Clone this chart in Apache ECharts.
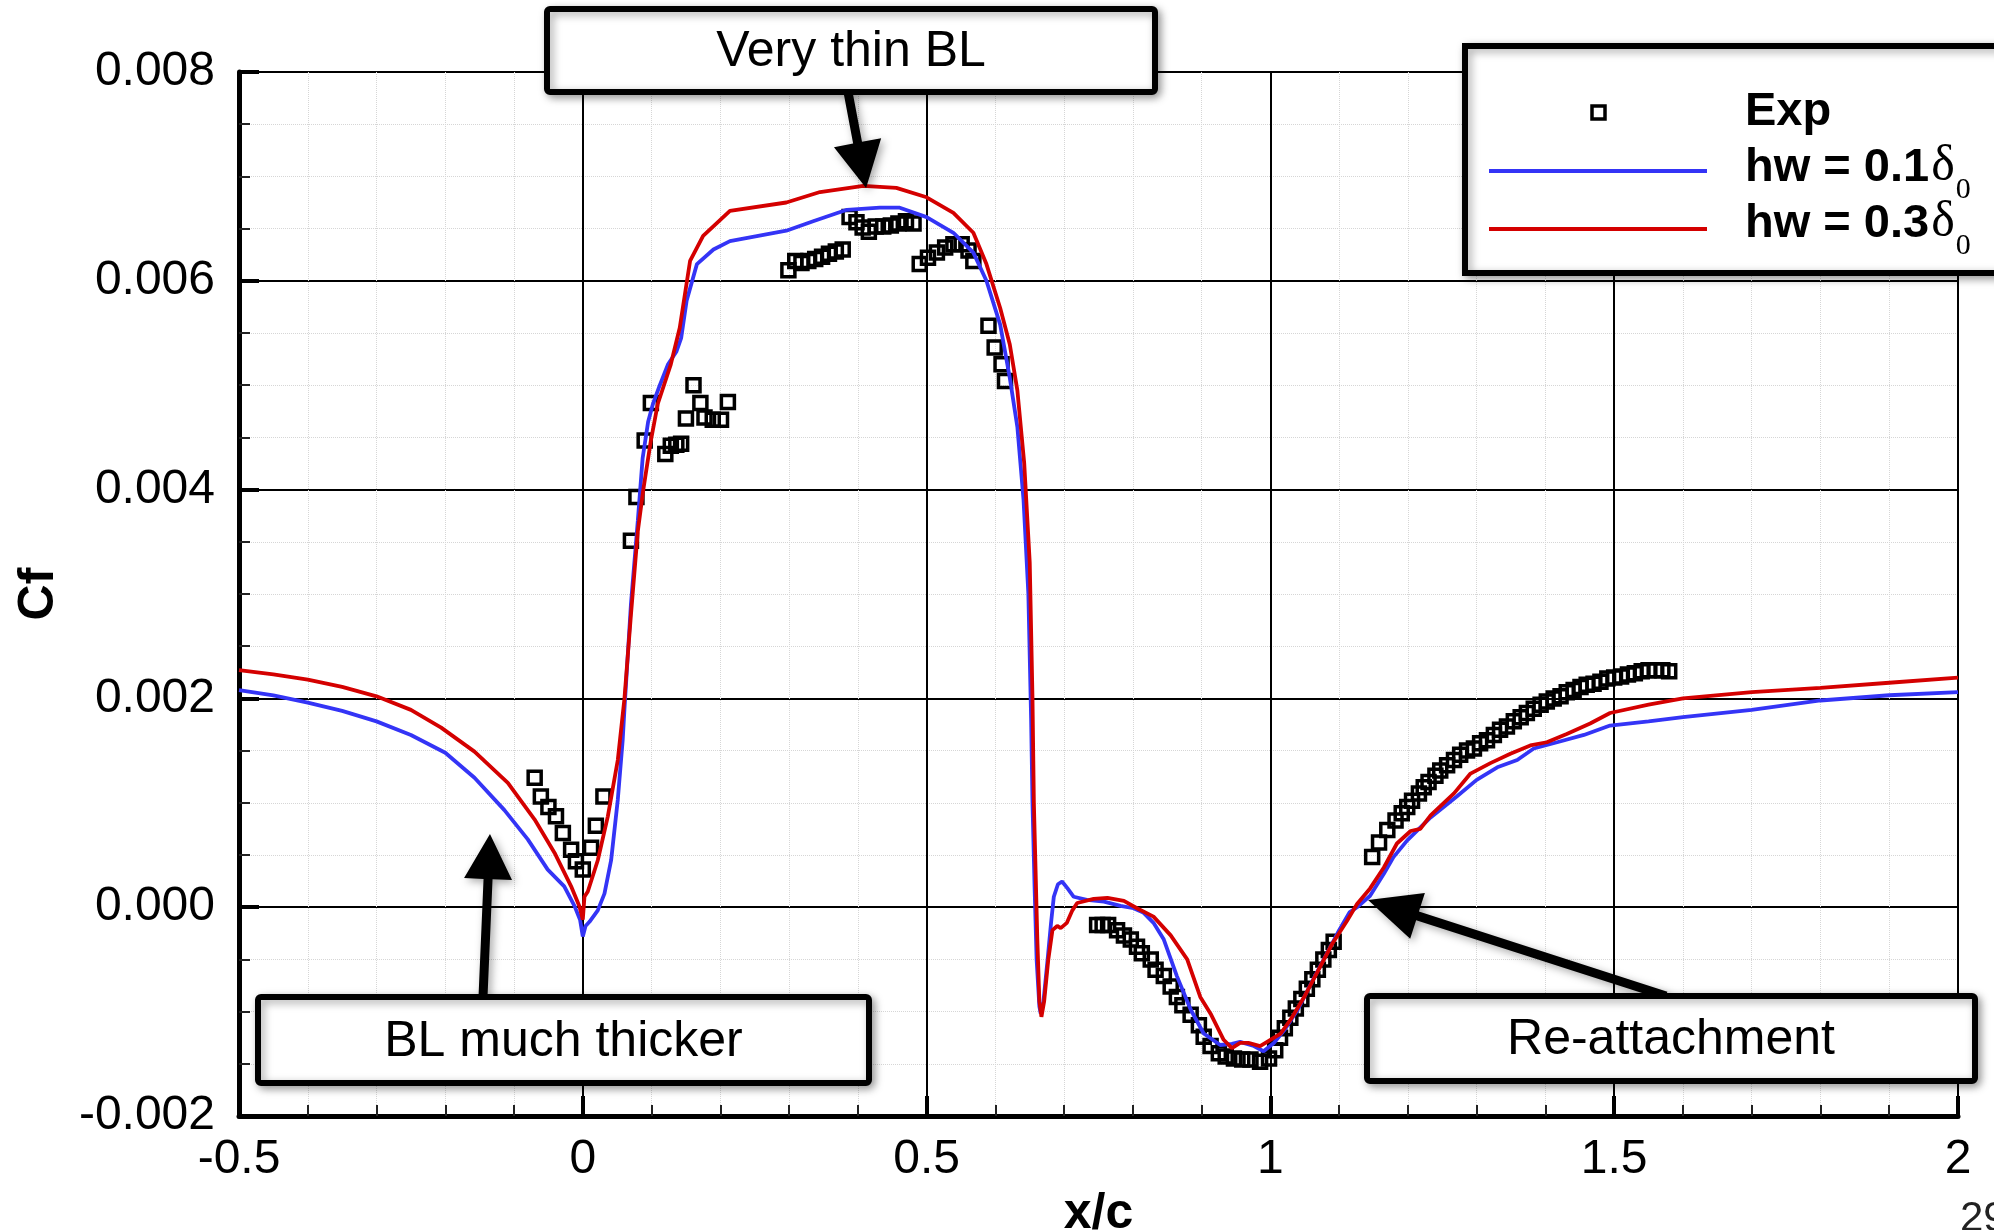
<!DOCTYPE html>
<html>
<head>
<meta charset="utf-8">
<style>
  html, body { margin: 0; padding: 0; background: #fff; }
  #chart { width: 1994px; height: 1230px; }
</style>
<script src="https://cdn.jsdelivr.net/npm/echarts@6/dist/echarts.min.js"></script>
</head>
<body>
<div id="chart"></div>
<script>
// Skin-friction coefficient along the wall: experiment vs. two wall-model heights
const xTicks = [-0.5, 0, 0.5, 1, 1.5, 2];
const yTicks = [-0.002, 0.000, 0.002, 0.004, 0.006, 0.008];

// Experimental data (hollow squares)
const expX = [
  -0.070, -0.061, -0.050, -0.039, -0.029, -0.017, -0.010, 0.000, 0.012, 0.019, 0.030,
  0.070, 0.078, 0.090, 0.099, 0.120, 0.128, 0.136, 0.143, 0.150, 0.161, 0.171, 0.177, 0.189, 0.201, 0.211,
  0.299, 0.309, 0.318, 0.328, 0.338, 0.348, 0.358, 0.368, 0.378,
  0.388, 0.398, 0.407, 0.416, 0.426, 0.437, 0.448, 0.459, 0.470, 0.481,
  0.490, 0.502, 0.515, 0.527, 0.539, 0.551, 0.561, 0.568,
  0.590, 0.599, 0.609, 0.614,
  0.748, 0.756, 0.764, 0.777, 0.787, 0.797, 0.806, 0.813, 0.826, 0.833, 0.845, 0.855, 0.864, 0.872,
  0.884, 0.896, 0.903, 0.913, 0.925, 0.935, 0.947, 0.959, 0.971, 0.985, 0.998,
  1.007, 1.014, 1.021, 1.029, 1.037, 1.045, 1.053, 1.061, 1.069, 1.077, 1.085, 1.092,
  1.148, 1.158, 1.170, 1.182, 1.191, 1.199, 1.206, 1.216, 1.223, 1.230, 1.240, 1.247, 1.257, 1.267,
  1.276, 1.286, 1.296, 1.305, 1.315, 1.325, 1.334, 1.344, 1.354, 1.364, 1.373, 1.383, 1.393, 1.402,
  1.412, 1.422, 1.431, 1.441, 1.451, 1.460, 1.470, 1.480, 1.490, 1.500, 1.510, 1.520, 1.530, 1.540,
  1.550, 1.560, 1.570, 1.580
];
const expCf = [
  0.00124, 0.00106, 0.00096, 0.00087, 0.00071, 0.00055, 0.00044, 0.00036, 0.00057, 0.00078, 0.00106,
  0.00351, 0.00393, 0.00447, 0.00483, 0.00434, 0.00442, 0.00443, 0.00444, 0.00468, 0.00500, 0.00483, 0.00469, 0.00467, 0.00467, 0.00484,
  0.00610, 0.00619, 0.00617, 0.00619, 0.00621, 0.00623, 0.00626, 0.00628, 0.00630,
  0.00661, 0.00656, 0.00651, 0.00647, 0.00652, 0.00652, 0.00653, 0.00655, 0.00657, 0.00655,
  0.00616, 0.00622, 0.00627, 0.00632, 0.00635, 0.00635, 0.00629, 0.00619,
  0.00557, 0.00536, 0.00520, 0.00504,
  -0.00017, -0.00017, -0.00017, -0.00022, -0.00027, -0.00031, -0.00038, -0.00044, -0.00050, -0.00060, -0.00066, -0.00076, -0.00086, -0.00094,
  -0.00103, -0.00113, -0.00124, -0.00133, -0.00140, -0.00143, -0.00145, -0.00146, -0.00146, -0.00148, -0.00145,
  -0.00137, -0.00125, -0.00116, -0.00106, -0.00097, -0.00088, -0.00078, -0.00069, -0.00060, -0.00050, -0.00041, -0.00033,
  0.00048, 0.00062, 0.00074, 0.00083, 0.00090, 0.00096, 0.00102, 0.00109, 0.00115, 0.00120, 0.00126, 0.00131, 0.00136, 0.00141,
  0.00146, 0.00150, 0.00152, 0.00157, 0.00160, 0.00165, 0.00170, 0.00173, 0.00178, 0.00182, 0.00186, 0.00190, 0.00194, 0.00197,
  0.00200, 0.00202, 0.00206, 0.00208, 0.00211, 0.00213, 0.00214, 0.00216, 0.00219, 0.00220, 0.00221, 0.00223, 0.00224, 0.00226,
  0.00227, 0.00227, 0.00227, 0.00226
];

// Computation with wall-model height hw = 0.1 delta0
const hw01X = [
  -0.5, -0.45, -0.4, -0.35, -0.3, -0.25, -0.2, -0.1575, -0.114, -0.08, -0.051, -0.027, -0.012, -0.004, 0.0,
  0.004, 0.0097, 0.0218, 0.0315, 0.0412, 0.0509, 0.058, 0.0606, 0.07, 0.08, 0.087, 0.095, 0.102, 0.112,
  0.124, 0.136, 0.143, 0.151, 0.166, 0.19, 0.214, 0.255, 0.296, 0.335, 0.384, 0.432, 0.461, 0.5, 0.539,
  0.568, 0.587, 0.607, 0.621, 0.632, 0.641, 0.648, 0.652, 0.654, 0.657, 0.66, 0.664, 0.666, 0.67, 0.676,
  0.681, 0.685, 0.691, 0.697, 0.705, 0.714, 0.733, 0.758, 0.782, 0.801, 0.815, 0.83, 0.845, 0.864, 0.884,
  0.903, 0.927, 0.944, 0.956, 0.976, 0.99, 1.005, 1.02, 1.04, 1.06, 1.08, 1.1, 1.115, 1.126, 1.145,
  1.165, 1.179, 1.199, 1.233, 1.271, 1.3, 1.33, 1.359, 1.383, 1.417, 1.456, 1.494, 1.55, 1.6, 1.7,
  1.8, 1.9, 2.0
];
const hw01Cf = [
  0.00208, 0.00203, 0.00196, 0.00188, 0.00178, 0.00165, 0.00148, 0.00124, 0.00093, 0.00065, 0.00036, 0.00020, 0.00001, -0.00012, -0.00028,
  -0.00018, -0.00014, -0.00003, 0.00013, 0.00045, 0.00103, 0.00160, 0.00190, 0.00290, 0.00370, 0.00430, 0.00465, 0.00482, 0.00500,
  0.00520, 0.00532, 0.00545, 0.00581, 0.00616, 0.00630, 0.00638, 0.00643, 0.00648, 0.00657, 0.00668, 0.00670, 0.00670, 0.00661, 0.00646,
  0.00627, 0.00600, 0.00558, 0.00507, 0.00460, 0.00390, 0.00300, 0.00180, 0.00100, 0.00020, -0.00050, -0.00095, -0.00102, -0.00090, -0.00050,
  -0.00015, 0.00010, 0.00022, 0.000246, 0.00018, 0.00010, 0.00007, 0.000054, 0.000013, -0.00001, -0.00005, -0.00015, -0.00031, -0.00066, -0.00098,
  -0.00121, -0.00132, -0.00131, -0.00129, -0.00133, -0.00138, -0.00130, -0.00118, -0.00098, -0.00072, -0.00047, -0.00022, -0.00005, 0.0, 0.00011,
  0.00032, 0.00048, 0.00064, 0.00086, 0.00106, 0.00122, 0.00134, 0.00141, 0.00152, 0.00158, 0.00165, 0.00174, 0.00178, 0.00182, 0.00189,
  0.00198, 0.00203, 0.00206
];

// Computation with wall-model height hw = 0.3 delta0
const hw03X = [
  -0.5, -0.45, -0.4, -0.35, -0.3, -0.25, -0.206, -0.1575, -0.109, -0.07, -0.041, -0.017, -0.005, 0.0,
  0.0024, 0.0073, 0.0218, 0.0364, 0.0509, 0.0606, 0.07, 0.08, 0.088, 0.099, 0.109, 0.128, 0.141, 0.156,
  0.175, 0.214, 0.296, 0.345, 0.408, 0.456, 0.5, 0.539, 0.568, 0.587, 0.607, 0.621, 0.632, 0.642, 0.65,
  0.654, 0.656, 0.661, 0.664, 0.667, 0.671, 0.677, 0.683, 0.69, 0.695, 0.704, 0.712, 0.719, 0.743, 0.763,
  0.787, 0.806, 0.83, 0.855, 0.879, 0.898, 0.913, 0.932, 0.944, 0.956, 0.968, 0.985, 1.0, 1.015, 1.03,
  1.05, 1.07, 1.09, 1.1115, 1.126, 1.145, 1.165, 1.184, 1.204, 1.218, 1.233, 1.267, 1.291, 1.32, 1.349,
  1.378, 1.402, 1.431, 1.465, 1.494, 1.55, 1.6, 1.7, 1.8, 1.9, 2.0
];
const hw03Cf = [
  0.00227, 0.00223, 0.00218, 0.00211, 0.00202, 0.00189, 0.00172, 0.00149, 0.00119, 0.00084, 0.00052, 0.00020, 0.00001, -0.00012,
  0.00010, 0.00015, 0.00045, 0.00087, 0.00141, 0.00200, 0.00280, 0.00360, 0.00400, 0.00447, 0.00482, 0.00520, 0.00555, 0.00619,
  0.00643, 0.00667, 0.00675, 0.00685, 0.00691, 0.00689, 0.00680, 0.00665, 0.00646, 0.00616, 0.00574, 0.00539, 0.00495, 0.00425, 0.00330,
  0.00200, 0.00100, -0.00030, -0.00090, -0.00105, -0.00090, -0.00050, -0.00022, -0.00018, -0.00020, -0.00015, -0.00003, 0.00004, 0.00008, 0.00009,
  0.00006, -0.00001, -0.00009, -0.00027, -0.00050, -0.00086, -0.00102, -0.00127, -0.00135, -0.00130, -0.00130, -0.00133, -0.00127, -0.00121, -0.00107,
  -0.00085, -0.00060, -0.00035, -0.00013, 0.00003, 0.00018, 0.00038, 0.00061, 0.00073, 0.00075, 0.00088, 0.00109, 0.00128, 0.00138, 0.00147,
  0.00155, 0.00158, 0.00166, 0.00176, 0.00186, 0.00194, 0.00200, 0.00206, 0.00210, 0.00215, 0.00220
];

// Callout arrows point at these (x/c, Cf) locations
const calloutTips = {
  thinBL: [0.412, 0.00689],
  thickBL: [-0.135, 0.00070],
  reattach: [1.142, 0.00007]
};

const zip = (xs, ys) => xs.map((x, i) => [x, ys[i]]);

const BLUE = '#3434f6';
const RED = '#d40000';
const FONT = '"Liberation Sans", Arial, Helvetica, sans-serif';
const SERIF = '"Liberation Serif", "Times New Roman", serif';

const chart = echarts.init(document.getElementById('chart'), null, { renderer: 'canvas' });

const axisCommon = {
  axisLine: { show: true, onZero: false, lineStyle: { color: '#000', width: 5 } },
  axisTick: { show: true, inside: true, length: 20, lineStyle: { color: '#000', width: 4 } },
  minorTick: { show: true, length: 11, lineStyle: { color: '#222', width: 2 } },
  splitLine: { show: true, lineStyle: { color: '#000', width: 2 } },
  minorSplitLine: { show: true, lineStyle: { color: '#d6d6d6', width: 1, type: 'dotted' } },
  axisLabel: { color: '#000', fontFamily: FONT, fontSize: 48 },
  nameTextStyle: { color: '#000', fontFamily: FONT, fontSize: 50, fontWeight: 'bold' }
};

chart.setOption({
  animation: false,
  backgroundColor: '#fff',
  grid: { left: 239, right: 36, top: 72, bottom: 114, containLabel: false, outerBoundsMode: 'none' },
  xAxis: Object.assign({}, axisCommon, {
    type: 'value',
    min: xTicks[0], max: xTicks[xTicks.length - 1], interval: 0.5,
    minorTick: Object.assign({}, axisCommon.minorTick, { splitNumber: 5 }),
    axisLabel: Object.assign({}, axisCommon.axisLabel, { margin: 20, formatter: v => String(+v.toFixed(1)) }),
    name: 'x/c', nameLocation: 'middle', nameGap: 66
  }),
  yAxis: Object.assign({}, axisCommon, {
    type: 'value',
    min: yTicks[0], max: yTicks[yTicks.length - 1], interval: 0.002,
    minorTick: Object.assign({}, axisCommon.minorTick, { splitNumber: 4 }),
    axisLabel: Object.assign({}, axisCommon.axisLabel, { margin: 24, formatter: v => v.toFixed(3) }),
    name: 'Cf', nameLocation: 'middle', nameGap: 175, nameRotate: 90
  }),
  series: [
    {
      name: 'Exp', type: 'scatter', data: zip(expX, expCf),
      symbol: 'rect', symbolSize: 13, z: 3,
      itemStyle: { color: 'rgba(0,0,0,0)', borderColor: '#000', borderWidth: 3.5, opacity: 1 }
    },
    {
      name: 'hw = 0.1δ0', type: 'line', data: zip(hw01X, hw01Cf),
      showSymbol: false, z: 4, lineStyle: { color: BLUE, width: 3.8 }
    },
    {
      name: 'hw = 0.3δ0', type: 'line', data: zip(hw03X, hw03Cf),
      showSymbol: false, z: 5, lineStyle: { color: RED, width: 3.8 }
    }
  ]
});

// ---- callout boxes, arrows and legend ----
const measure = (() => {
  const ctx = document.createElement('canvas').getContext('2d');
  return (text, font) => { ctx.font = font; return ctx.measureText(text).width; };
})();

const shadow = { shadowBlur: 8, shadowOffsetX: 3, shadowOffsetY: 3, shadowColor: 'rgba(0,0,0,0.35)' };

function arrowShape(tail, tip, shaftW, headW, headL) {
  const dx = tip[0] - tail[0], dy = tip[1] - tail[1];
  const len = Math.hypot(dx, dy);
  const ux = dx / len, uy = dy / len, nx = -uy, ny = ux;
  const bx = tip[0] - ux * headL, by = tip[1] - uy * headL;
  return [
    [tail[0] + nx * shaftW / 2, tail[1] + ny * shaftW / 2],
    [bx + nx * shaftW / 2, by + ny * shaftW / 2],
    [bx + nx * headW / 2, by + ny * headW / 2],
    [tip[0], tip[1]],
    [bx - nx * headW / 2, by - ny * headW / 2],
    [bx - nx * shaftW / 2, by - ny * shaftW / 2],
    [tail[0] - nx * shaftW / 2, tail[1] - ny * shaftW / 2]
  ];
}

function callout(box, label, tail, tipData, headL) {
  const tip = chart.convertToPixel({ gridIndex: 0 }, tipData);
  return [
    {
      type: 'polygon', z: 100,
      shape: { points: arrowShape(tail, tip, 9, 48, headL) },
      style: Object.assign({ fill: '#000' }, shadow)
    },
    {
      type: 'rect', z: 101,
      shape: { x: box[0], y: box[1], width: box[2], height: box[3], r: 3 },
      style: Object.assign({ fill: '#fff', stroke: '#000', lineWidth: 6 }, shadow)
    },
    {
      type: 'text', z: 102,
      x: box[0] + box[2] / 2, y: box[1] + box[3] / 2 + 2,
      style: { text: label, fill: '#000', font: '50px ' + FONT, align: 'center', verticalAlign: 'middle' }
    }
  ];
}

const boldFont = 'bold 47px ' + FONT;
function deltaLabel(prefix, x, yMid) {
  const w = measure(prefix, boldFont);
  const dw = measure('δ', '50px ' + SERIF);
  return [
    { type: 'text', z: 112, x: x, y: yMid,
      style: { text: prefix, fill: '#000', font: boldFont, align: 'left', verticalAlign: 'middle' } },
    { type: 'text', z: 112, x: x + w + 2, y: yMid - 1,
      style: { text: 'δ', fill: '#000', font: '50px ' + SERIF, align: 'left', verticalAlign: 'middle' } },
    { type: 'text', z: 112, x: x + w + 3 + dw, y: yMid + 22,
      style: { text: '0', fill: '#000', font: '30px ' + SERIF, align: 'left', verticalAlign: 'middle' } }
  ];
}

const legend = [
  { type: 'rect', z: 110, shape: { x: 1465, y: 46, width: 560, height: 227 },
    style: Object.assign({ fill: '#fff', stroke: '#000', lineWidth: 6 }, shadow) },
  { type: 'rect', z: 111, shape: { x: 1592, y: 106, width: 13, height: 13 },
    style: { fill: 'rgba(0,0,0,0)', stroke: '#000', lineWidth: 3.5 } },
  { type: 'text', z: 112, x: 1745, y: 112,
    style: { text: 'Exp', fill: '#000', font: boldFont, align: 'left', verticalAlign: 'middle' } },
  { type: 'line', z: 111, shape: { x1: 1489, y1: 171, x2: 1707, y2: 171 },
    style: { stroke: BLUE, lineWidth: 4 } },
  { type: 'line', z: 111, shape: { x1: 1489, y1: 229, x2: 1707, y2: 229 },
    style: { stroke: RED, lineWidth: 4 } }
].concat(deltaLabel('hw = 0.1', 1745, 168), deltaLabel('hw = 0.3', 1745, 224));

const graphics = []
  .concat(callout([547, 9, 608, 83], 'Very thin BL', [848, 92], calloutTips.thinBL, 46))
  .concat(callout([258, 997, 611, 86], 'BL much thicker', [483, 997], calloutTips.thickBL, 45))
  .concat(callout([1367, 996, 608, 85], 'Re-attachment', [1666, 996], calloutTips.reattach, 52))
  .concat(legend)
  .concat([{ type: 'text', z: 120, x: 1960, y: 1198,
    style: { text: '29', fill: '#222', font: '42px ' + FONT, align: 'left', verticalAlign: 'top' } }]);

chart.setOption({ graphic: { elements: graphics } });
</script>
</body>
</html>
